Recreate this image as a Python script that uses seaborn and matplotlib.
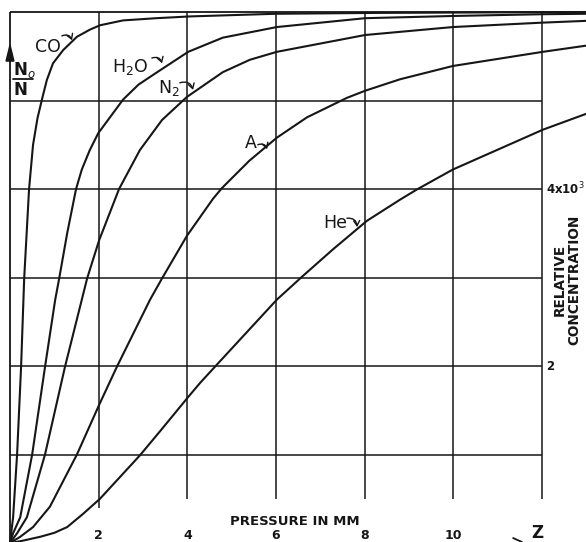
import numpy as np
import pandas as pd
import matplotlib
matplotlib.use("Agg")
import matplotlib.pyplot as plt
import seaborn as sns

# Curves: pressure (mm) vs relative concentration (x10^3)
co_p = [0, 0.07, 0.16, 0.25, 0.32, 0.43, 0.52, 0.62, 0.72, 0.83, 0.97, 1.20, 1.51, 1.80, 2.03, 2.55, 3.30, 4.06, 6.0, 8.35, 13.0]
co_c = [0, 0.29, 1.00, 1.99, 2.99, 4.00, 4.50, 4.80, 5.01, 5.23, 5.42, 5.57, 5.72, 5.80, 5.85, 5.905, 5.93, 5.95, 5.98, 5.99, 6.0]

h2o_p = [0, 0.07, 0.23, 0.50, 0.79, 1.02, 1.11, 1.29, 1.49, 1.62, 1.80, 1.99, 2.55, 2.90, 3.32, 4.02, 4.80, 6.02, 8.01, 9.99, 12.02, 13.0]
h2o_c = [0, 0.11, 0.29, 1.00, 1.99, 2.75, 2.99, 3.50, 4.00, 4.22, 4.44, 4.63, 5.01, 5.18, 5.32, 5.55, 5.71, 5.83, 5.93, 5.955, 5.975, 5.98]

n2_p = [0, 0.16, 0.38, 0.79, 1.24, 1.62, 1.74, 2.01, 2.46, 2.93, 3.43, 3.99, 4.80, 5.41, 6.02, 8.01, 9.99, 12.02, 13.0]
n2_c = [0, 0.11, 0.29, 1.00, 1.99, 2.75, 2.99, 3.42, 4.00, 4.44, 4.78, 5.04, 5.32, 5.46, 5.55, 5.74, 5.83, 5.88, 5.90]

ar_p = [0, 0.23, 0.52, 0.90, 1.51, 2.01, 2.41, 3.16, 3.43, 3.99, 4.58, 4.78, 5.40, 6.02, 6.70, 7.60, 8.01, 8.80, 9.99, 12.02, 13.0]
ar_c = [0, 0.07, 0.18, 0.41, 1.00, 1.56, 1.99, 2.75, 2.99, 3.47, 3.89, 4.01, 4.32, 4.58, 4.81, 5.03, 5.11, 5.24, 5.39, 5.55, 5.62]

he_p = [0, 0.23, 0.68, 1.00, 1.29, 1.65, 2.03, 2.93, 3.38, 4.02, 4.29, 4.62, 6.02, 6.59, 7.29, 8.05, 8.80, 9.18, 9.99, 12.02, 13.0]
he_c = [0, 0.02, 0.07, 0.115, 0.18, 0.33, 0.50, 0.99, 1.26, 1.65, 1.81, 1.99, 2.75, 3.01, 3.32, 3.64, 3.88, 3.995, 4.22, 4.67, 4.85]

gas_names = ["CO", "H2O", "N2", "A", "He"]
gas_labels = ["CO", "H$_2$O", "N$_2$", "A", "He"]

grid_x = [2, 4, 6, 8, 10, 12]
grid_x_bottom = [0.40, 0.50, 0.50, 0.50, 0.50, 0.50]
grid_y = [1, 2, 3, 4, 5]
x_ticks = [2, 4, 6, 8, 10]
x_tick_labels = ["2", "4", "6", "8", "10"]
right_ticks = [4, 2]
right_tick_labels = ["4x10$^3$", "2"]

frames = []
for name, p, c in zip(gas_names, [co_p, h2o_p, n2_p, ar_p, he_p], [co_c, h2o_c, n2_c, ar_c, he_c]):
    frames.append(pd.DataFrame({"gas": name, "pressure": p, "conc": c}))
df = pd.concat(frames, ignore_index=True)

sns.set_theme(style="white")
plt.rcParams['font.family'] = ['DejaVu Sans']

ink = "#161616"
fig = plt.figure(figsize=(5.86, 5.42), dpi=100)
ax = fig.add_axes([10 / 586, -1 / 542, 576 / 586, 531 / 542])
ax.set_xlim(0, 576 / 44.33)
ax.set_ylim(0, 6)
ax.axis("off")

# grid / frame
ax.hlines(grid_y, 0, 12, color=ink, lw=1.1)
ax.hlines(6, 0, 13, color=ink, lw=1.3, clip_on=False)
ax.vlines(0, 0, 6, color=ink, lw=1.3, clip_on=False)
ax.vlines(grid_x, grid_x_bottom, 6, color=ink, lw=1.1)

sns.lineplot(data=df, x="pressure", y="conc", units="gas", estimator=None, sort=False,
             color=ink, lw=1.5, ax=ax, legend=False)
for ln in ax.lines:
    ln.set_clip_on(False)
    ln.set_solid_joinstyle("round")

# curve labels with little hooked arrows
label_xy = [(0.56, 5.55), (2.30, 5.32), (3.34, 5.08), (5.30, 4.46), (7.06, 3.56)]
arrow_xy = [((1.17, 5.73), (1.40, 5.68)), ((3.20, 5.48), (3.43, 5.42)),
            ((3.83, 5.20), (4.13, 5.12)), ((5.59, 4.50), (5.80, 4.45)),
            ((7.60, 3.67), (7.83, 3.57))]
for lab, (lx, ly), (a0, a1) in zip(gas_labels, label_xy, arrow_xy):
    ax.text(lx, ly, lab, fontsize=12.5, color=ink, ha="left", va="baseline")
    ax.annotate("", xy=a1, xytext=a0,
                arrowprops=dict(arrowstyle="->,head_length=0.3,head_width=0.18", lw=1.0, color=ink,
                                connectionstyle="arc3,rad=-0.5", shrinkA=0, shrinkB=0))

# left axis label N0/N with arrow on spine
ax.annotate("", xy=(0, 5.66), xytext=(0, 5.44),
            arrowprops=dict(arrowstyle="-|>,head_length=0.9,head_width=0.22", lw=1.3, color=ink,
                            shrinkA=0, shrinkB=0))
ax.text(0.07, 5.29, "N$_o$", fontsize=12, fontweight="bold", color=ink, ha="left", va="baseline")
ax.text(0.07, 5.06, "N", fontsize=12, fontweight="bold", color=ink, ha="left", va="baseline")
ax.plot([0.07, 0.52], [5.245, 5.245], color=ink, lw=1.3)

# right axis labels
for yv, lab in zip(right_ticks, right_tick_labels):
    ax.text(12.09, yv, lab, fontsize=8.5, fontweight="bold", color=ink, ha="left", va="center")
ax.text(12.57, 2.97, "RELATIVE\nCONCENTRATION", rotation=90, fontsize=9.8, fontweight="bold",
        color=ink, ha="center", va="center", multialignment="center", linespacing=1.0)

# bottom labels
for xv, lab in zip(x_ticks, x_tick_labels):
    ax.text(xv, 0.08, lab, fontsize=9, fontweight="bold", color=ink, ha="center", va="center")
ax.text(6.43, 0.24, "PRESSURE IN MM", fontsize=9.5, fontweight="bold", color=ink, ha="center", va="center")
ax.text(11.89, 0.11, "Z", fontsize=12, fontweight="bold", color=ink, ha="center", va="center")
ax.plot([11.35, 11.55], [0.056, 0.011], color=ink, lw=1.3, clip_on=False)

fig.savefig("out.png", dpi=100, facecolor="w")
